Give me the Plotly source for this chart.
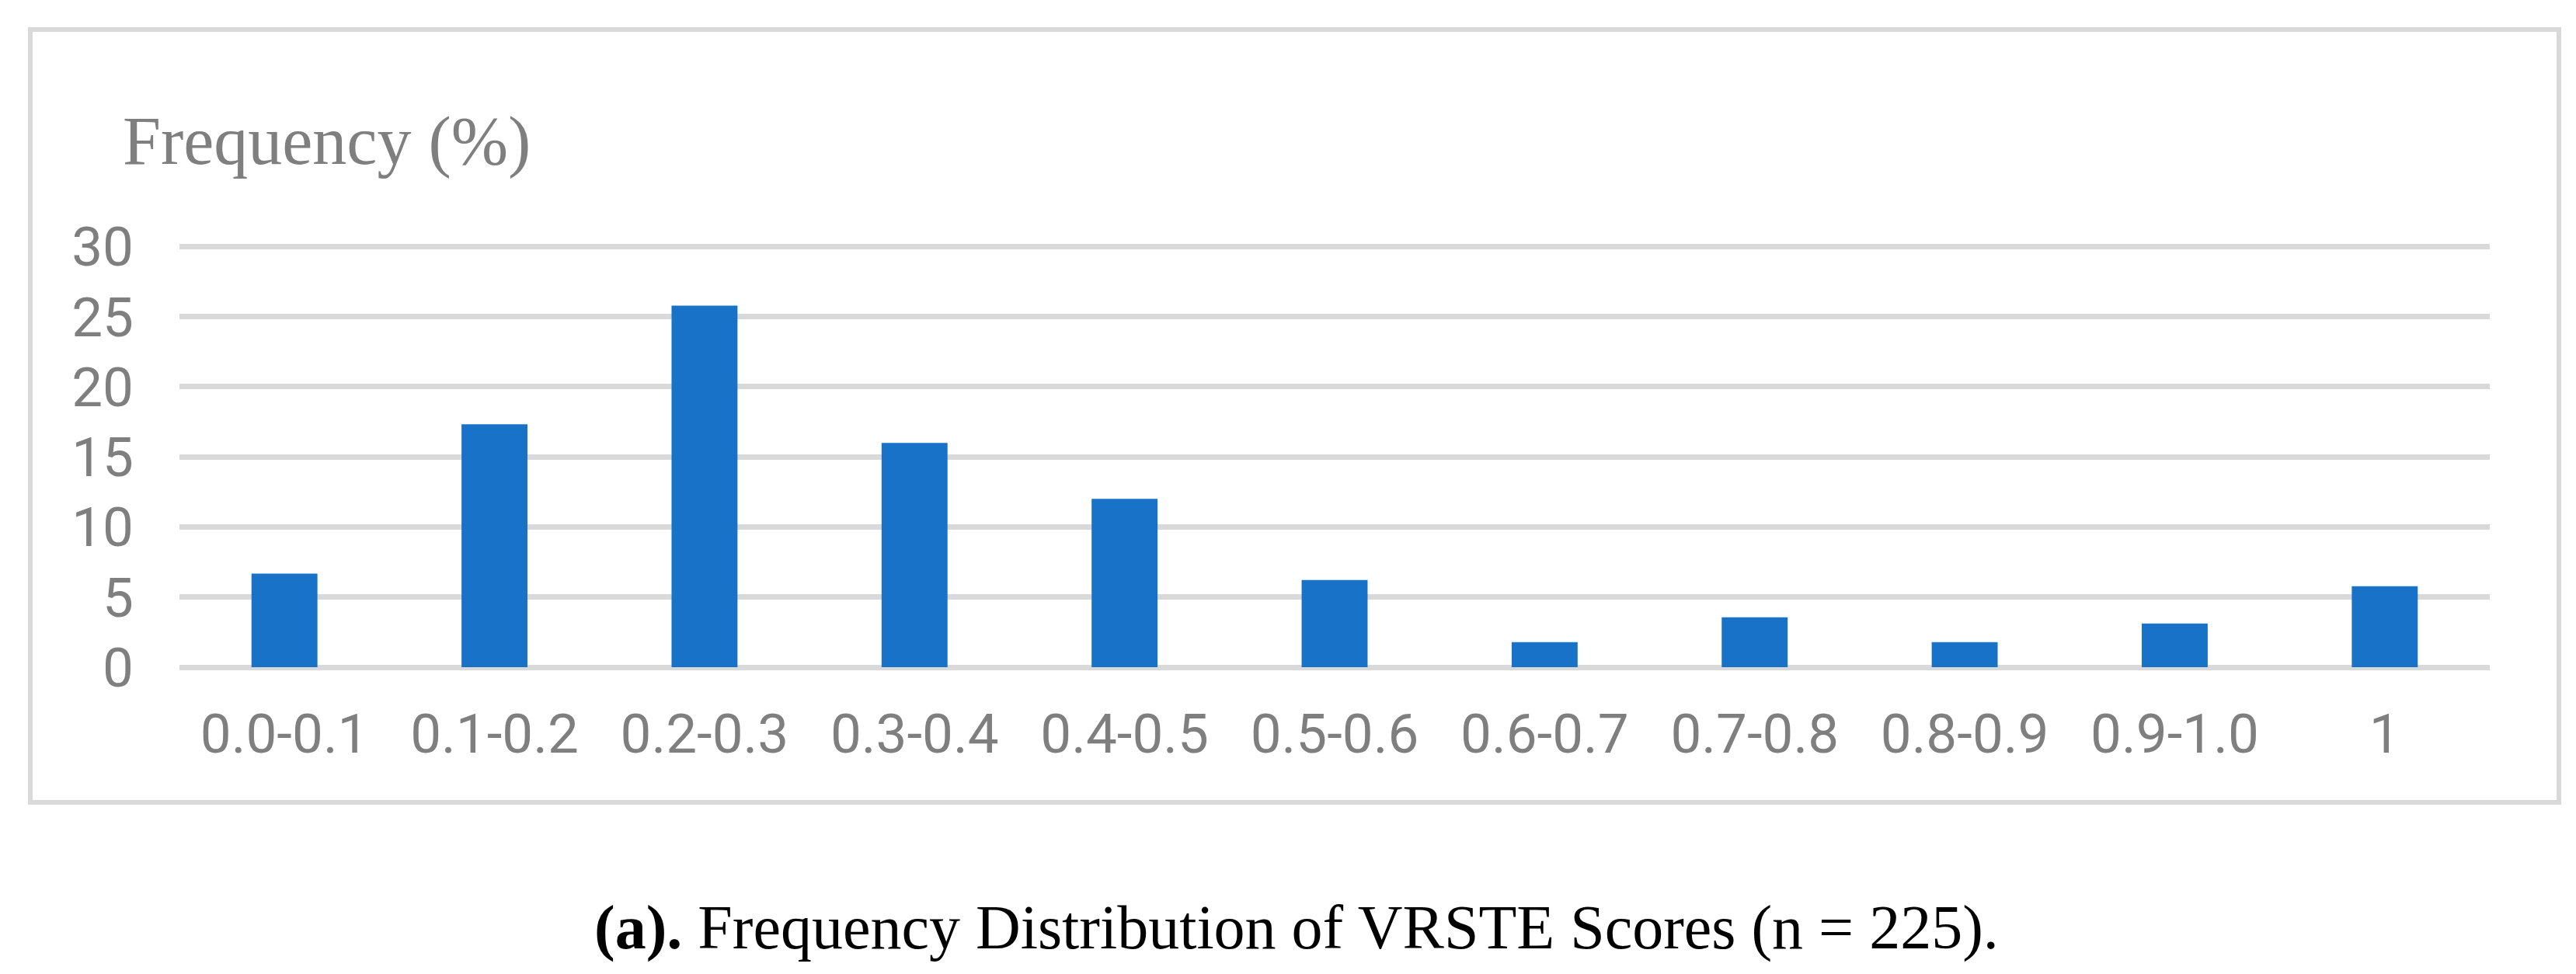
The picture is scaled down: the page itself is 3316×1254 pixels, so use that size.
import plotly.graph_objects as go

categories = ["0.0-0.1", "0.1-0.2", "0.2-0.3", "0.3-0.4", "0.4-0.5", "0.5-0.6",
              "0.6-0.7", "0.7-0.8", "0.8-0.9", "0.9-1.0", "1"]
frequency = [6.67, 17.33, 25.78, 16.0, 12.0, 6.22, 1.78, 3.56, 1.78, 3.11, 5.78]
y_ticks = [0, 5, 10, 15, 20, 25, 30]
y_title = "Frequency (%)"
caption = "<b>(a).</b> Frequency Distribution of VRSTE Scores (n = 225)."

W, H = 3316, 1254
Y_TOP = 30.3
L, R, B = 223, 3316 - 3197, 1254 - 851
T = 309 - int(round((Y_TOP - 30) * (851 - 309) / 30))
pw, ph = W - L - R, H - T - B

def px_x(x):
    return (x - L) / pw

def px_y(y):
    return (H - B - y) / ph

GRAY = "#7F7F7F"
GRID = "#D9D9D9"

fig = go.Figure(go.Bar(x=categories, y=frequency, marker=dict(color="#1873C8", line=dict(width=0))))

fig.update_layout(
    width=W, height=H,
    margin=dict(l=L, r=R, t=T, b=B, pad=0),
    paper_bgcolor="white", plot_bgcolor="white",
    bargap=0.686,
    showlegend=False,
    font=dict(family="Roboto", color=GRAY),
)
fig.update_xaxes(
    type="category", showgrid=False, showline=False, zeroline=False,
    ticks="", tickfont=dict(family="Roboto", size=71, color=GRAY),
    ticklabelstandoff=38,
)
fig.update_yaxes(
    range=[0, Y_TOP], tickvals=y_ticks, showgrid=True, gridcolor=GRID, gridwidth=7,
    zeroline=True, zerolinecolor=GRID, zerolinewidth=7, showline=False, ticks="",
    tickfont=dict(family="Roboto", size=71, color=GRAY), ticklabelstandoff=58,
)

fig.add_annotation(
    text=y_title, xref="paper", yref="paper", x=px_x(148), y=px_y(173),
    xanchor="left", yanchor="middle", showarrow=False,
    font=dict(family="Liberation Serif", size=88, color=GRAY),
)
fig.add_annotation(
    text=caption, xref="paper", yref="paper", x=px_x(1661), y=px_y(1186),
    xanchor="center", yanchor="middle", showarrow=False,
    font=dict(family="Liberation Serif", size=80, color="black"),
)
fig.add_shape(
    type="rect", xref="paper", yref="paper",
    x0=px_x(31), x1=px_x(3286), y0=px_y(1025), y1=px_y(30),
    line=dict(color=GRID, width=6), fillcolor="rgba(0,0,0,0)", layer="below",
)

fig.write_html("out.html")
